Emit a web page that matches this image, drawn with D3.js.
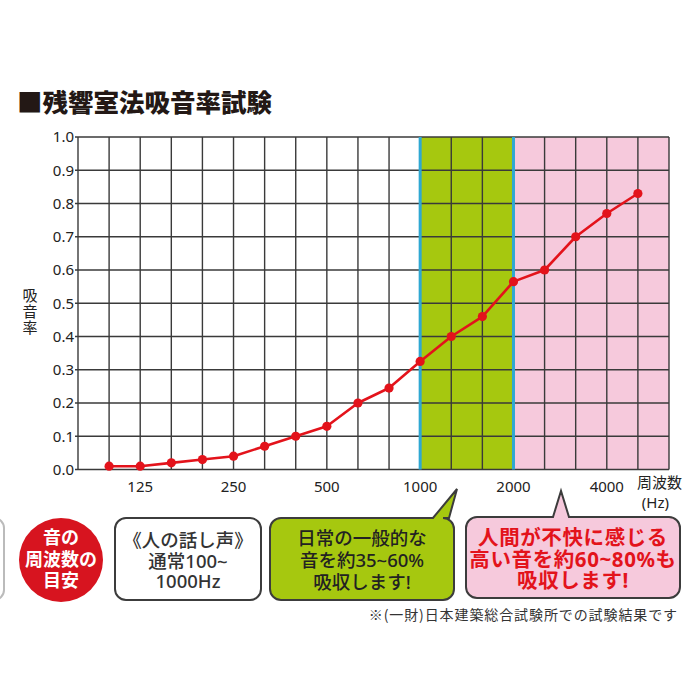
<!DOCTYPE html>
<html>
<head>
<meta charset="utf-8">
<script src="https://cdn.jsdelivr.net/npm/d3@7"></script>
<style>
  body { margin: 0; background: #fff; }
  svg { display: block; }
</style>
</head>
<body>
<div id="chart"></div>
<script>
// 残響室法吸音率試験 data
const freqs = [100, 125, 160, 200, 250, 315, 400, 500, 630, 800, 1000, 1250, 1600, 2000, 2500, 3150, 4000, 5000]
const absorption = [0.01, 0.01, 0.02, 0.03, 0.04, 0.07, 0.10, 0.13, 0.20, 0.245, 0.325, 0.40, 0.46, 0.565, 0.60, 0.70, 0.77, 0.83]
const xTickLabels = [125, 250, 500, 1000, 2000, 4000]
const yTickValues = [0, 0.1, 0.2, 0.3, 0.4, 0.5, 0.6, 0.7, 0.8, 0.9, 1.0]
const greenRange = [1000, 2000]
const pinkStart = 2000

const title = '■残響室法吸音率試験'
const yTitle = '吸音率'
const badgeLines = ['音の', '周波数の', '目安']
const voiceLines = ['《人の話し声》', '通常100~', '1000Hz']
const greenLines = ['日常の一般的な', '音を約35~60%', '吸収します!']
const pinkLines = ['人間が不快に感じる', '高い音を約60~80%も', '吸収します!']
const footnote = '※(一財)日本建築総合試験所での試験結果です'

const W = 700
const H = 700
const plot = { left: 78, right: 669, top: 137, bottom: 469.5 }
const SANS = '"Noto Sans", "Noto Sans CJK JP", sans-serif'
const JP = '"Noto Sans CJK JP", sans-serif'

const svg = d3.select('#chart').append('svg')
  .attr('width', W)
  .attr('height', H)

const x = d3.scalePoint()
  .domain(freqs)
  .range([plot.left, plot.right])
  .padding(1)

const y = d3.scaleLinear()
  .domain([0, 1])
  .range([plot.bottom, plot.top])

// background bands
svg.append('rect')
  .attr('x', x(greenRange[0]))
  .attr('y', plot.top)
  .attr('width', x(greenRange[1]) - x(greenRange[0]))
  .attr('height', plot.bottom - plot.top)
  .attr('fill', '#a6c80f')

svg.append('rect')
  .attr('x', x(pinkStart))
  .attr('y', plot.top)
  .attr('width', plot.right - x(pinkStart))
  .attr('height', plot.bottom - plot.top)
  .attr('fill', '#f6c9dc')

// grid
const gridX = [plot.left, ...freqs.map(f => x(f)), plot.right]
svg.append('g')
  .selectAll('line')
  .data(gridX)
  .enter().append('line')
  .attr('x1', d => d)
  .attr('x2', d => d)
  .attr('y1', plot.top)
  .attr('y2', plot.bottom)
  .attr('stroke', '#3a3a3a')
  .attr('stroke-width', 1.4)

svg.append('g')
  .selectAll('line')
  .data(yTickValues)
  .enter().append('line')
  .attr('x1', plot.left - 3)
  .attr('x2', plot.right)
  .attr('y1', d => y(d))
  .attr('y2', d => y(d))
  .attr('stroke', '#3a3a3a')
  .attr('stroke-width', 1.4)

// blue band borders
svg.append('g')
  .selectAll('line')
  .data(greenRange)
  .enter().append('line')
  .attr('x1', d => x(d))
  .attr('x2', d => x(d))
  .attr('y1', plot.top)
  .attr('y2', plot.bottom)
  .attr('stroke', '#2fa8d2')
  .attr('stroke-width', 3)

// y tick labels
svg.append('g')
  .selectAll('text')
  .data(yTickValues)
  .enter().append('text')
  .attr('x', plot.left - 4)
  .attr('y', d => y(d))
  .attr('dy', '0.36em')
  .attr('text-anchor', 'end')
  .attr('font-family', SANS)
  .attr('font-size', 15)
  .attr('fill', '#222')
  .text(d => d.toFixed(1))

// x tick labels
svg.append('g')
  .selectAll('text')
  .data(xTickLabels)
  .enter().append('text')
  .attr('x', d => x(d))
  .attr('y', 492)
  .attr('text-anchor', 'middle')
  .attr('font-family', SANS)
  .attr('font-size', 15)
  .attr('fill', '#222')
  .text(d => d)

svg.append('text')
  .attr('x', 682)
  .attr('y', 488)
  .attr('text-anchor', 'end')
  .attr('font-family', JP)
  .attr('font-size', 15)
  .attr('fill', '#222')
  .text('周波数')

svg.append('text')
  .attr('x', 669)
  .attr('y', 508)
  .attr('text-anchor', 'end')
  .attr('font-family', SANS)
  .attr('font-size', 15)
  .attr('fill', '#222')
  .text('(Hz)')

// y title, vertical
svg.append('text')
  .attr('x', 30)
  .attr('y', 288)
  .attr('font-family', JP)
  .attr('font-size', 15)
  .attr('fill', '#222')
  .style('writing-mode', 'vertical-rl')
  .style('text-orientation', 'upright')
  .style('letter-spacing', '1px')
  .text(yTitle)

// title
svg.append('text')
  .attr('x', 17)
  .attr('y', 112)
  .attr('font-family', JP)
  .attr('font-weight', 900)
  .attr('font-size', 25.5)
  .attr('fill', '#231815')
  .text(title)

// data line
const line = d3.line()
  .x((d, i) => x(freqs[i]))
  .y(d => y(d))

svg.append('path')
  .datum(absorption)
  .attr('d', line)
  .attr('fill', 'none')
  .attr('stroke', '#e3131b')
  .attr('stroke-width', 2.6)
  .attr('stroke-linejoin', 'round')

svg.append('g')
  .selectAll('circle')
  .data(absorption)
  .enter().append('circle')
  .attr('cx', (d, i) => x(freqs[i]))
  .attr('cy', d => y(d))
  .attr('r', 4.6)
  .attr('fill', '#e3131b')

// callouts
function bubble (x0, y0, x1, y1, r, ptr) {
  const p = d3.path()
  p.moveTo(x0 + r, y0)
  if (ptr) {
    p.lineTo(ptr.a, y0)
    p.lineTo(ptr.tx, ptr.ty)
    p.lineTo(ptr.b, y0)
  }
  p.lineTo(x1 - r, y0)
  p.arcTo(x1, y0, x1, y0 + r, r)
  p.lineTo(x1, y1 - r)
  p.arcTo(x1, y1, x1 - r, y1, r)
  p.lineTo(x0 + r, y1)
  p.arcTo(x0, y1, x0, y1 - r, r)
  p.lineTo(x0, y0 + r)
  p.arcTo(x0, y0, x0 + r, y0, r)
  p.closePath()
  return p.toString()
}

// multi-line block as one text element with tspans
function textLines (lines, cx, y0, lh, opts) {
  svg.append('text')
    .attr('text-anchor', 'middle')
    .attr('font-family', opts.family)
    .attr('font-weight', opts.weight || 400)
    .attr('font-size', opts.size)
    .attr('fill', opts.fill)
    .style('letter-spacing', (opts.ls || 0) + 'px')
    .selectAll('tspan')
    .data(lines)
    .enter().append('tspan')
    .attr('x', cx)
    .attr('y', (d, i) => y0 + i * lh)
    .text(d => d)
}

// partial grey box at the left edge
svg.append('path')
  .attr('d', bubble(-40, 518, 4, 600, 10))
  .attr('fill', '#fff')
  .attr('stroke', '#bbb')
  .attr('stroke-width', 2)

svg.append('circle')
  .attr('cx', 61)
  .attr('cy', 560)
  .attr('r', 42)
  .attr('fill', '#d7141f')
textLines(badgeLines, 61, 544, 21.5, { family: JP, weight: 700, size: 18, fill: '#fff' })

svg.append('path')
  .attr('d', bubble(115, 518, 261, 600, 11))
  .attr('fill', '#fff')
  .attr('stroke', '#3c3c3c')
  .attr('stroke-width', 2)
textLines(voiceLines, 188, 547, 20.5, { family: SANS, weight: 500, size: 18.5, fill: '#333' })

svg.append('path')
  .attr('d', bubble(270, 518, 454, 600, 11, { a: 433, b: 449, tx: 457, ty: 489 }))
  .attr('fill', '#a6c80f')
  .attr('stroke', '#3c3c3c')
  .attr('stroke-width', 2)
textLines(greenLines, 362, 545, 22, { family: SANS, weight: 500, size: 18.5, fill: '#222' })

svg.append('path')
  .attr('d', bubble(466, 517, 680, 598, 11, { a: 553, b: 569, tx: 561, ty: 491 }))
  .attr('fill', '#f6c9dc')
  .attr('stroke', '#3c3c3c')
  .attr('stroke-width', 2)
textLines(pinkLines, 573, 545, 21.5, { family: SANS, weight: 700, size: 20.5, fill: '#e3131b', ls: 0.6 })

svg.append('text')
  .attr('x', 678)
  .attr('y', 620)
  .attr('text-anchor', 'end')
  .attr('font-family', JP)
  .attr('font-size', 14)
  .attr('fill', '#333')
  .style('letter-spacing', '0.9px')
  .text(footnote)
</script>
</body>
</html>
